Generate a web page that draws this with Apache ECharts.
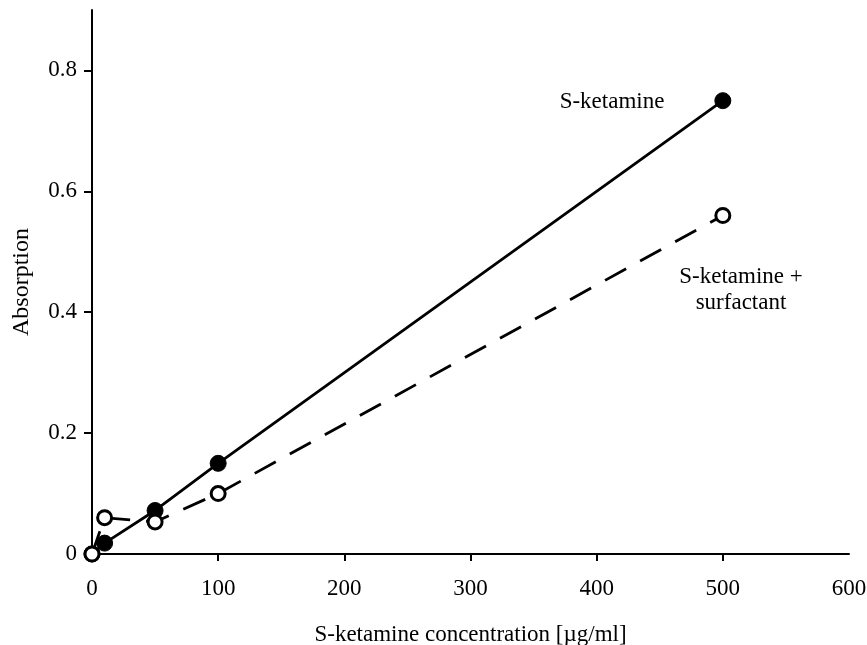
<!DOCTYPE html>
<html><head><meta charset="utf-8">
<script src="https://cdn.jsdelivr.net/npm/echarts@6/dist/echarts.min.js"></script>
<style>html,body{margin:0;padding:0;background:#fff}#c{width:867px;height:645px}</style>
</head><body><div id="c"></div>
<script>
const concentrations = [0, 10, 50, 100, 500];
const ketamine = [0, 0.018, 0.072, 0.15, 0.75];
const ketamineSurfactant = [0, 0.06, 0.053, 0.10, 0.56];
const xTicks = [0, 100, 200, 300, 400, 500, 600];
const yTicks = [0, 0.2, 0.4, 0.6, 0.8];

const font = 'Liberation Serif';
const chart = echarts.init(document.getElementById('c'));
chart.setOption({
  animation: false,
  backgroundColor: '#fff',
  grid: {left: 92, right: 18, top: 10, bottom: 91, containLabel: false, outerBoundsMode: 'none'},
  xAxis: {
    type: 'value', min: 0, max: 600, interval: 100,
    name: 'S-ketamine concentration [\u00b5g/ml]', nameLocation: 'middle', nameGap: 69,
    nameTextStyle: {fontFamily: font, fontSize: 23, color: '#000'},
    axisLine: {show: true, lineStyle: {color: '#000', width: 2}},
    axisTick: {show: true, length: 7, lineStyle: {color: '#000', width: 2},
      customValues: xTicks.filter(v => v > 0 && v < 600)},
    axisLabel: {fontFamily: font, fontSize: 23, color: '#000', margin: 23,
      customValues: xTicks, formatter: v => String(v)},
    splitLine: {show: false}
  },
  yAxis: {
    type: 'value', min: 0, max: 0.9, interval: 0.1,
    name: 'Absorption', nameLocation: 'middle', nameGap: 58,
    nameTextStyle: {fontFamily: font, fontSize: 24, color: '#000'},
    axisLine: {show: true, lineStyle: {color: '#000', width: 2}},
    axisTick: {show: true, length: 8, lineStyle: {color: '#000', width: 2}, customValues: yTicks},
    axisLabel: {fontFamily: font, fontSize: 23, color: '#000', margin: 15,
      customValues: yTicks, formatter: v => v === 0 ? '0' : String(+v.toFixed(1))},
    splitLine: {show: false}
  },
  series: [
    {
      name: 'S-ketamine', type: 'line',
      data: concentrations.map((x, i) => [x, ketamine[i]]),
      symbol: 'circle', symbolSize: 16,
      lineStyle: {color: '#000', width: 2.8},
      itemStyle: {color: '#000', borderColor: '#000', borderWidth: 1},
      z: 3
    },
    {
      name: 'S-ketamine + surfactant', type: 'line',
      data: concentrations.map((x, i) => [x, ketamineSurfactant[i]]),
      symbol: 'circle', symbolSize: 14,
      lineStyle: {color: '#000', width: 2.8, type: [24, 16]},
      itemStyle: {color: '#fff', borderColor: '#000', borderWidth: 3},
      z: 4
    }
  ],
  graphic: [
    {type: 'text', x: 612, y: 102, style: {text: 'S-ketamine', fontFamily: font, fontSize: 23, fill: '#000', align: 'center', verticalAlign: 'middle'}},
    {type: 'text', x: 741, y: 290, style: {text: 'S-ketamine +\nsurfactant', fontFamily: font, fontSize: 23, fill: '#000', align: 'center', verticalAlign: 'middle', lineHeight: 26}}
  ]
});
</script></body></html>
